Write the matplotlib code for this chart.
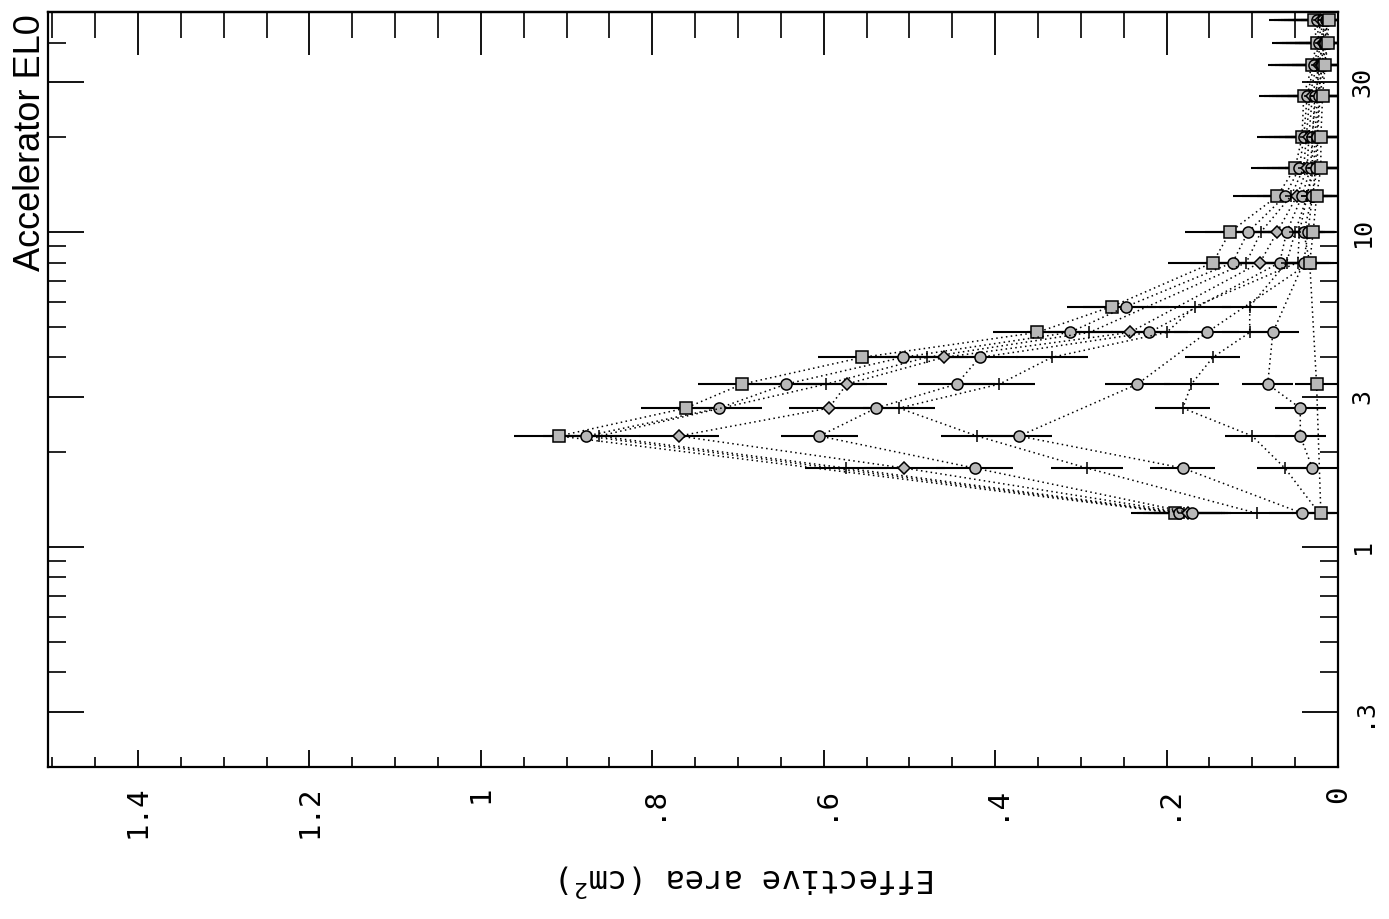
import numpy as np
import matplotlib
matplotlib.use("Agg")
import matplotlib.pyplot as plt
from matplotlib.ticker import FixedLocator, MultipleLocator, NullFormatter

plt.rcParams['font.family'] = ['DejaVu Sans Mono', 'DejaVu Sans']
plt.rcParams['mathtext.fontset'] = 'dejavusans'

# Photon energy bins (MeV)
energy = [1.28, 1.78, 2.25, 2.76, 3.29, 4.0, 4.8, 5.8, 8.0, 10.0, 13.0, 16.0, 20.0, 27.0, 34.0, 40.0, 47.0]

nan = float('nan')
# Effective area (cm^2) for each configuration, nan where no measurement
area_a = [0.190, nan, 0.909, 0.761, 0.695, 0.555, 0.351, 0.264, 0.146, 0.126, 0.071, 0.050, 0.042, 0.040, 0.030, 0.025, 0.028]
area_b = [0.185, nan, 0.877, 0.722, 0.644, 0.508, 0.313, 0.247, 0.123, 0.105, 0.062, 0.045, 0.040, 0.036, 0.028, 0.022, 0.025]
area_c = [0.180, 0.574, 0.862, nan, 0.597, 0.480, 0.290, nan, 0.107, 0.090, 0.055, 0.040, 0.037, 0.033, 0.025, 0.020, 0.022]
area_d = [0.175, 0.506, 0.769, 0.594, 0.573, 0.460, 0.243, nan, 0.091, 0.071, 0.048, 0.036, 0.034, 0.030, 0.022, 0.018, 0.020]
area_e = [0.170, 0.424, 0.605, 0.539, 0.445, 0.418, 0.220, nan, 0.068, 0.060, 0.042, 0.032, 0.030, 0.027, 0.020, 0.016, 0.018]
area_f = [0.095, 0.293, 0.421, 0.512, 0.395, 0.334, 0.200, 0.167, 0.047, 0.045, 0.036, 0.028, 0.027, 0.024, 0.018, 0.014, 0.016]
area_g = [0.042, 0.181, 0.372, nan, 0.234, nan, 0.153, nan, 0.033, 0.040, 0.030, 0.024, 0.024, 0.021, 0.016, 0.012, 0.014]
area_h = [0.022, 0.062, 0.100, 0.181, 0.171, 0.146, 0.103, 0.103, 0.060, 0.050, 0.036, 0.030, 0.030, 0.026, 0.022, 0.018, 0.016]
area_i = [nan, 0.030, 0.044, 0.044, 0.082, nan, 0.076, nan, 0.040, 0.035, 0.030, 0.026, 0.025, 0.022, 0.019, 0.015, 0.013]
area_j = [0.020, nan, nan, nan, 0.025, nan, nan, nan, 0.033, 0.029, 0.025, 0.020, 0.020, 0.018, 0.015, 0.012, 0.011]

series = [area_a, area_b, area_c, area_d, area_e, area_f, area_g, area_h, area_i, area_j]
# Half-width of the horizontal error bars for each configuration
area_err = [0.052, 0.050, 0.048, 0.047, 0.045, 0.042, 0.038, 0.032, 0.030, 0.025]
markers = ['s', 'o', '+', 'D', 'o', '+', 'o', '+', 'o', 's']

area_ticks = [1.4, 1.2, 1.0, 0.8, 0.6, 0.4, 0.2, 0.0]
area_tick_labels = ['1.4', '1.2', '1', '.8', '.6', '.4', '.2', '0']
energy_ticks = [0.3, 1, 3, 10, 30]
energy_tick_labels = ['.3', '1', '3', '10', '30']

fig = plt.figure(figsize=(13.89, 9.19), dpi=100)
ax = fig.add_axes([48 / 1389, 1 - 767 / 919, (1338 - 48) / 1389, (767 - 12) / 919])

E = np.array(energy)
for vals, err, mk in zip(series, area_err, markers):
    v = np.array(vals, dtype=float)
    ok = ~np.isnan(v)
    ax.errorbar(v[ok], E[ok], xerr=err, fmt='none', ecolor='black', elinewidth=1.5, capsize=0, zorder=2)
    ax.plot(v[ok], E[ok], linestyle=(0, (1, 2.2)), color='black', linewidth=1.1,
            marker=mk, markersize=8 if mk != 'D' else 6, markerfacecolor='#b8b8b8',
            markeredgecolor='black', markeredgewidth=1.1, zorder=3)

ax.set_yscale('log')
ax.set_xlim(1.505, 0.0)
ax.set_ylim(0.2, 50)

for s in ax.spines.values():
    s.set_linewidth(1.6)

# area axis: long inward ticks along the top, short ones along the bottom
ax.xaxis.set_major_locator(FixedLocator(area_ticks))
ax.xaxis.set_minor_locator(MultipleLocator(0.05))
ax.set_xticklabels(area_tick_labels, rotation=90, fontsize=21)
ax.tick_params(axis='x', which='major', direction='in', length=12, width=1.3, top=False, pad=13)
ax.tick_params(axis='x', which='minor', direction='in', length=7, width=1.2, top=False)

top = ax.secondary_xaxis('top')
top.xaxis.set_major_locator(FixedLocator(area_ticks))
top.xaxis.set_minor_locator(MultipleLocator(0.05))
top.xaxis.set_major_formatter(NullFormatter())
top.tick_params(axis='x', which='major', direction='in', length=31, width=1.3)
top.tick_params(axis='x', which='minor', direction='in', length=19, width=1.2)
top.spines['top'].set_linewidth(1.6)

# energy axis (log), labels on the right
ax.yaxis.set_major_locator(FixedLocator(energy_ticks))
ax.set_yticklabels(energy_tick_labels, rotation=90, fontsize=18, va='center')
ax.tick_params(axis='y', which='major', direction='in', length=26, width=1.3,
               left=True, right=True, labelleft=False, labelright=True, pad=9)
ax.tick_params(axis='y', which='minor', direction='in', length=13, width=1.2,
               left=True, right=True)

fig.text(748 / 1389, 1 - 880 / 919, 'Effective area (cm$^2$)', rotation=180,
         ha='center', va='center', fontsize=23)
fig.text(31 / 1389, 1 - 14 / 919, 'Accelerator EL0', rotation=90,
         ha='center', va='top', fontsize=26, family=['Liberation Sans', 'DejaVu Sans'])

fig.savefig('out.png', dpi=100, facecolor='white')
